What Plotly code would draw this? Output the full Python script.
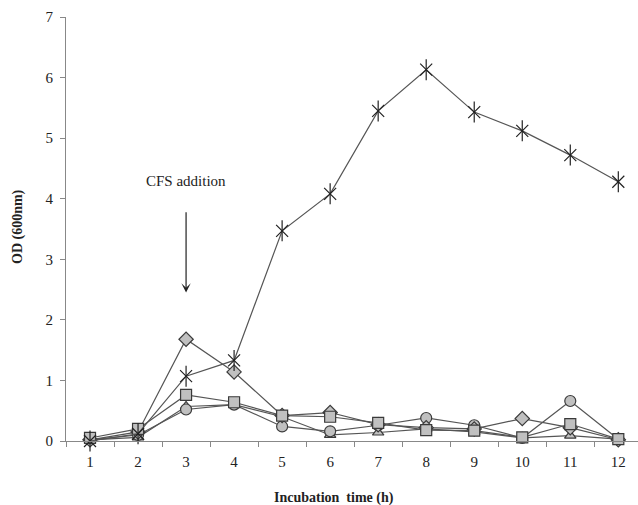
import plotly.graph_objects as go

hours = [1, 2, 3, 4, 5, 6, 7, 8, 9, 10, 11, 12]
tick_labels = [str(h) for h in hours]

star = [0.0, 0.12, 1.07, 1.33, 3.47, 4.08, 5.45, 6.13, 5.43, 5.12, 4.72, 4.28]
diamond = [0.02, 0.15, 1.68, 1.14, 0.42, 0.47, 0.27, 0.22, 0.20, 0.37, 0.22, 0.02]
square = [0.05, 0.20, 0.76, 0.64, 0.42, 0.40, 0.30, 0.18, 0.17, 0.06, 0.28, 0.03]
circle = [0.02, 0.10, 0.52, 0.60, 0.24, 0.16, 0.26, 0.38, 0.26, 0.05, 0.66, 0.03]
triangle = [0.02, 0.06, 0.57, 0.60, 0.40, 0.10, 0.14, 0.20, 0.15, 0.05, 0.09, 0.03]

FONT = "Liberation Serif"
line_col = "#555555"
fill = "#c0c0c0"
edge = "#3a3a3a"
star_col = "#222222"

fig = go.Figure()

def add(y, symbol, size):
    fig.add_trace(go.Scatter(
        x=hours, y=y, mode="lines+markers",
        line=dict(color=line_col, width=1.2),
        marker=dict(symbol=symbol, size=size, color=fill,
                    line=dict(color=edge, width=1.2)),
        showlegend=False, cliponaxis=False))

add(triangle, "triangle-up", 10)
add(circle, "circle", 11)
add(diamond, "diamond", 11)
add(square, "square", 11)
fig.add_trace(go.Scatter(
    x=hours, y=star, mode="lines+markers",
    line=dict(color=line_col, width=1.2),
    marker=dict(symbol="x-thin-open", size=12, color=star_col,
                line=dict(color=star_col, width=1.2)),
    showlegend=False, cliponaxis=False))
fig.add_trace(go.Scatter(
    x=hours, y=star, mode="markers",
    marker=dict(symbol="line-ns-open", size=15, color=star_col,
                line=dict(color=star_col, width=1.2)),
    showlegend=False, cliponaxis=False))

fig.add_annotation(x=3, y=4.3, text="CFS addition", showarrow=False,
                   font=dict(family=FONT, size=15, color="#222"),
                   xanchor="center", yanchor="middle")
fig.add_annotation(x=3, y=2.45, ax=3, ay=3.8, xref="x", yref="y",
                   axref="x", ayref="y", text="", showarrow=True,
                   arrowhead=3, arrowsize=1.3, arrowwidth=1.2, arrowcolor="#222")

PLOT_L, PLOT_W, PLOT_B, PLOT_H = 66, 572, 441, 424
fig.add_annotation(x=(334 - PLOT_L) / PLOT_W, y=(PLOT_B - 498) / PLOT_H,
                   xref="paper", yref="paper", showarrow=False,
                   text="<b>Incubation  time (h)</b>",
                   font=dict(family=FONT, size=14, color="#222"),
                   xanchor="center", yanchor="middle")
fig.add_annotation(x=(18 - PLOT_L) / PLOT_W, y=(PLOT_B - 227) / PLOT_H,
                   xref="paper", yref="paper", showarrow=False,
                   text="<b>OD (600nm)</b>", textangle=-90,
                   font=dict(family=FONT, size=14, color="#222"),
                   xanchor="center", yanchor="middle")

fig.update_layout(
    width=638, height=505,
    margin=dict(l=66, r=0, t=17, b=64),
    paper_bgcolor="white", plot_bgcolor="white",
    font=dict(family=FONT, size=15, color="#222"),
    xaxis=dict(range=[0.5, 12.41], tickmode="array", tickvals=hours,
               ticktext=tick_labels, showgrid=False, zeroline=False,
               showline=True, linecolor="#888", linewidth=1.2,
               ticks="", ticklabelstandoff=7,
               tickfont=dict(family=FONT, size=15, color="#222")),
    yaxis=dict(range=[0, 7], tickvals=[0, 1, 2, 3, 4, 5, 6, 7],
               showgrid=False, zeroline=False, showline=True,
               linecolor="#888", linewidth=1.2, ticks="outside",
               ticklen=5, tickcolor="#888", ticklabelstandoff=4,
               tickfont=dict(family=FONT, size=15, color="#222")),
)

fig.update_xaxes(minor=dict(tickvals=[h + 0.5 for h in [0] + hours],
                            ticks="outside", ticklen=5, tickcolor="#888",
                            tickwidth=1))

fig.write_html("out.html")
